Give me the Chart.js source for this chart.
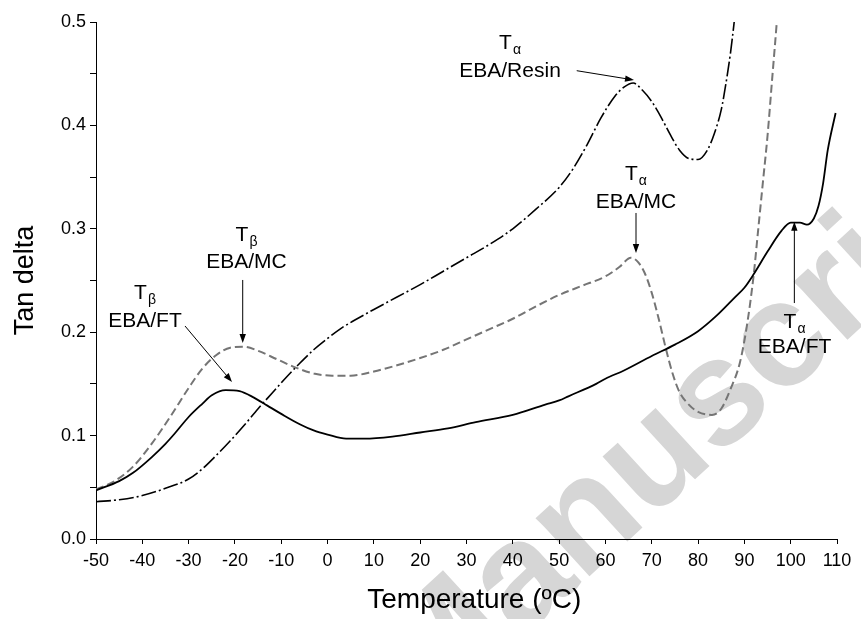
<!DOCTYPE html>
<html><head><meta charset="utf-8">
<script src="https://cdn.jsdelivr.net/npm/chart.js@4.4.0/dist/chart.umd.min.js"></script>
<style>html,body{margin:0;padding:0;background:#fff;}#wrap{width:861px;height:619px;}</style>
</head><body><div id="wrap"><canvas id="c" width="861" height="619"></canvas></div>
<script>
// ---- data ----
const ftTemp = [-50,-45,-42,-38,-35,-33,-30,-27,-25,-22,-19,-16,-13,-10,-6,-3,0,4,8,14,20,26,32,40,47,50,52,58,60,64,70,75,80,84,88,90,92,95,98,100,102,103.5,105,106,107,108,109.7];
const ftTan  = [.047,.056,.064,.079,.092,.102,.118,.131,.139,.144,.143,.137,.129,.121,.111,.105,.101,.097,.097,.099,.103,.107,.113,.120,.130,.134,.138,.150,.155,.163,.177,.188,.201,.216,.234,.243,.256,.278,.298,.306,.306,.304,.310,.322,.344,.376,.412];

const mcTemp = [-50,-46,-42,-38,-34,-30,-27,-24,-21,-18,-15,-11,-7,-3,1,5,10,15,20,25,30,35,40,45,50,55,60,63,65.5,67,68.5,70,71.5,73,74.5,76,78,80,83,85,87,89,90.5,92,93,94,95,96,97,98];
const mcTan  = [.048,.056,.070,.092,.118,.146,.165,.178,.185,.186,.182,.174,.166,.160,.158,.158,.162,.168,.175,.183,.193,.203,.213,.225,.236,.245,.254,.263,.272,.268,.257,.238,.213,.185,.160,.142,.130,.123,.120,.126,.145,.170,.205,.255,.300,.345,.390,.445,.500,.560];

const resinTemp = [-50,-45,-40,-35,-30,-27,-24,-21,-18,-15,-12,-9,-6,-3,0,3,6,10,15,20,25,30,35,40,45,50,53,56,59,62,64,66,68,70,72,74,76,78,80,82,83.5,85,86,87,87.8,88.5];
const resinTan  = [.036,.038,.042,.049,.058,.068,.081,.095,.110,.126,.141,.156,.170,.183,.194,.204,.212,.222,.234,.246,.259,.272,.285,.300,.319,.340,.358,.381,.407,.428,.437,.441,.434,.423,.408,.391,.376,.368,.367,.376,.392,.415,.440,.470,.500,.530];

const seriesNames = ['EBA/FT','EBA/MC','EBA/Resin'];
const xTickMin = -50, xTickMax = 110, xStep = 10;
const yTickMin = 0, yTickMax = 0.5, yStep = 0.05;
const xTitle = '  Temperature (ºC)';
const yTitle = 'Tan delta';

// annotations: label text and anchor points in data units
const notes = [
  {sub:'β', name:'EBA/FT',    tx:-39.42, t1:.2394, t2:.2123, a:[-30.78,.2060,-20.63,.1518]},
  {sub:'β', name:'EBA/MC',    tx:-17.50, t1:.2950, t2:.2693, a:[-18.32,.2505,-18.32,.1896]},
  {sub:'α', name:'EBA/Resin', tx:39.40,  t1:.4811, t2:.4541, a:[53.80,.4529,66.17,.4439]},
  {sub:'α', name:'EBA/MC',    tx:66.60,  t1:.3540, t2:.3274, a:[66.60,.3153,66.60,.2766]},
  {sub:'α', name:'EBA/FT',    tx:100.83, t1:.2113, t2:.1867, a:[100.79,.2282,100.79,.3069]}
];

const FONT = "'Liberation Sans', Arial, Helvetica, sans-serif";
const pts = (xs, ys) => xs.map((x, i) => ({x, y: ys[i]}));

const watermark = {
  id: 'watermark',
  beforeDraw(chart) {
    const ctx = chart.ctx;
    ctx.save();
    ctx.translate(428, 724);
    ctx.rotate(-42.5 * Math.PI / 180);
    ctx.font = "bold 150px " + FONT;
    ctx.fillStyle = 'rgb(214,214,214)';
    ctx.textBaseline = 'alphabetic';
    ctx.textAlign = 'left';
    ctx.fillText('Manuscript', 0, 0);
    ctx.restore();
  }
};

const annot = {
  id: 'annot',
  afterDatasetsDraw(chart) {
    const ctx = chart.ctx, xs = chart.scales.x, ys = chart.scales.y;
    ctx.save();
    ctx.fillStyle = '#000';
    ctx.strokeStyle = '#000';
    notes.forEach(n => {
      const cx = xs.getPixelForValue(n.tx);
      const y1 = ys.getPixelForValue(n.t1);
      ctx.font = "21px " + FONT;
      const wT = ctx.measureText('T').width;
      ctx.font = "14px " + FONT;
      const wS = ctx.measureText(n.sub).width;
      const x0 = cx - (wT + wS + 1) / 2;
      ctx.textAlign = 'left';
      ctx.textBaseline = 'alphabetic';
      ctx.font = "21px " + FONT;
      ctx.fillText('T', x0, y1 + 7.5);
      ctx.font = "14px " + FONT;
      ctx.fillText(n.sub, x0 + wT + 1, y1 + 12.5);
      const y2 = ys.getPixelForValue(n.t2);
      ctx.font = "21px " + FONT;
      ctx.textAlign = 'center';
      ctx.fillText(n.name, cx, y2 + 7.5);
      const ax1 = xs.getPixelForValue(n.a[0]), ay1 = ys.getPixelForValue(n.a[1]);
      const ax2 = xs.getPixelForValue(n.a[2]), ay2 = ys.getPixelForValue(n.a[3]);
      const ang = Math.atan2(ay2 - ay1, ax2 - ax1);
      const L = 9, W = 3.2;
      ctx.lineWidth = 1;
      ctx.beginPath();
      ctx.moveTo(ax1, ay1);
      ctx.lineTo(ax2 - Math.cos(ang) * L * 0.8, ay2 - Math.sin(ang) * L * 0.8);
      ctx.stroke();
      ctx.beginPath();
      ctx.moveTo(ax2, ay2);
      ctx.lineTo(ax2 - Math.cos(ang) * L - Math.sin(ang) * W, ay2 - Math.sin(ang) * L + Math.cos(ang) * W);
      ctx.lineTo(ax2 - Math.cos(ang) * L + Math.sin(ang) * W, ay2 - Math.sin(ang) * L - Math.cos(ang) * W);
      ctx.closePath();
      ctx.fill();
    });
    ctx.restore();
  }
};

new Chart(document.getElementById('c'), {
  type: 'line',
  data: {
    datasets: [
      {label: seriesNames[0], data: pts(ftTemp, ftTan), borderColor: '#000', borderWidth: 1.8, pointRadius: 0, cubicInterpolationMode: 'monotone', fill: false},
      {label: seriesNames[1], data: pts(mcTemp, mcTan), borderColor: '#757575', borderWidth: 2, borderDash: [8, 4], pointRadius: 0, cubicInterpolationMode: 'monotone', fill: false},
      {label: seriesNames[2], data: pts(resinTemp, resinTan), borderColor: '#000', borderWidth: 1.6, borderDash: [15, 3, 2, 3], pointRadius: 0, cubicInterpolationMode: 'monotone', fill: false}
    ]
  },
  options: {
    responsive: false,
    animation: false,
    devicePixelRatio: 1,
    layout: {padding: {left: 0, right: 24, top: 22, bottom: 0}},
    plugins: {legend: {display: false}, tooltip: {enabled: false}},
    scales: {
      x: {
        type: 'linear', min: xTickMin, max: xTickMax,
        afterFit: s => { s.height = 80; },
        ticks: {stepSize: xStep, autoSkip: false, maxRotation: 0, color: '#000', padding: 6, font: {family: FONT, size: 18}},
        grid: {drawOnChartArea: false, tickLength: 5, color: '#000', lineWidth: 1},
        border: {color: '#000', width: 1},
        title: {display: true, text: xTitle, color: '#000', font: {family: FONT, size: 28}, padding: {top: 0, bottom: 2}}
      },
      y: {
        type: 'linear', min: yTickMin, max: yTickMax,
        afterFit: s => { s.width = 96; },
        ticks: {stepSize: yStep, autoSkip: false, color: '#000', padding: 4, font: {family: FONT, size: 18},
          callback: v => { const t = v * 10; return Math.abs(t - Math.round(t)) < 1e-6 ? v.toFixed(1) : ''; }},
        grid: {drawOnChartArea: false, tickLength: 6, color: '#000', lineWidth: 1},
        border: {color: '#000', width: 1},
        title: {display: true, text: yTitle, color: '#000', font: {family: FONT, size: 27}, padding: {top: 9, bottom: 0}}
      }
    }
  },
  plugins: [watermark, annot]
});
</script></body></html>
